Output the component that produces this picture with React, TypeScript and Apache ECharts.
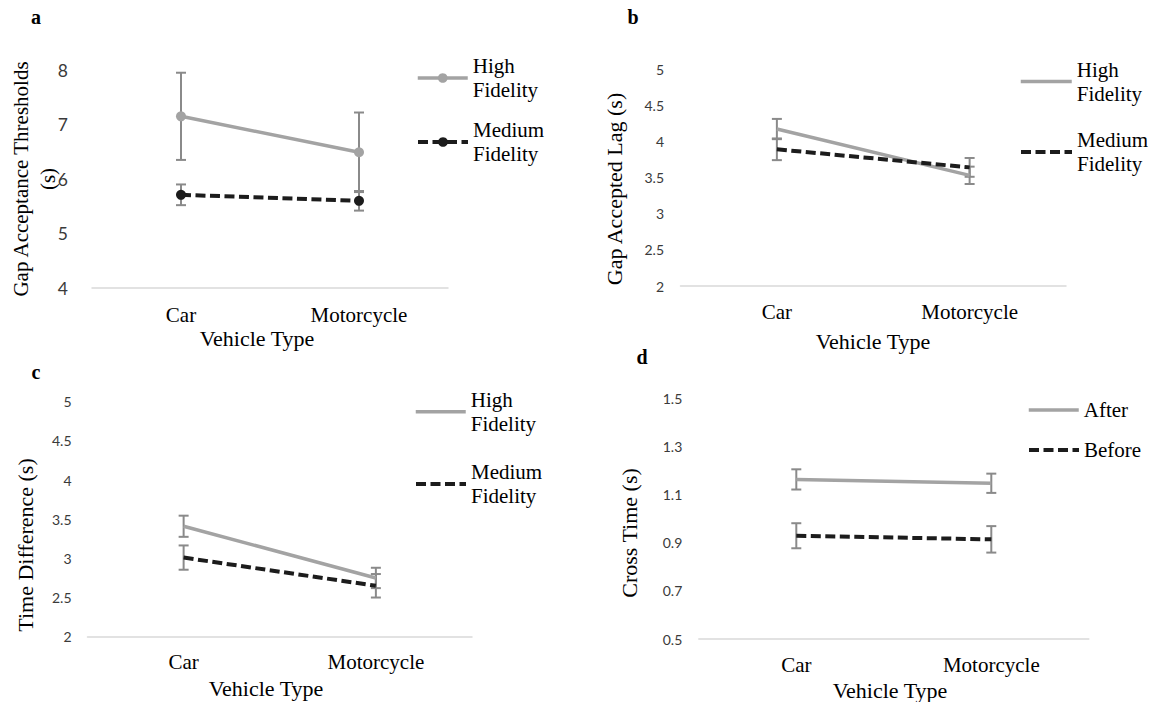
import React, { useEffect, useRef } from 'react';
import * as echarts from 'echarts';

// ---------- data ----------
const categories = ['Car', 'Motorcycle'];

// Panel a: Gap Acceptance Thresholds (s)
const aHigh = [7.15, 6.49];
const aHighErr = [0.8, 0.73];
const aMedium = [5.71, 5.6];
const aMediumErr = [0.19, 0.18];

// Panel b: Gap Accepted Lag (s)
const bHigh = [4.17, 3.53];
const bHighErr = [0.14, 0.12];
const bMedium = [3.89, 3.64];
const bMediumErr = [0.15, 0.13];

// Panel c: Time Difference (s)
const cHigh = [3.41, 2.75];
const cHighErr = [0.135, 0.13];
const cMedium = [3.01, 2.65];
const cMediumErr = [0.155, 0.15];

// Panel d: Cross Time (s)
const dAfter = [1.163, 1.147];
const dAfterErr = [0.042, 0.04];
const dBefore = [0.929, 0.914];
const dBeforeErr = [0.052, 0.055];

// axis ranges
const aAxis = { min: 4, max: 8, interval: 1 };
const bAxis = { min: 2, max: 5, interval: 0.5 };
const cAxis = { min: 2, max: 5, interval: 0.5 };
const dAxis = { min: 0.5, max: 1.5, interval: 0.2 };

// ---------- styles ----------
const SERIF = 'Liberation Serif';
const SANS = 'Lato';
const GRAY = '#a3a3a3';
const BLACK = '#1c1c1c';
const ERR = '#8a8a8a';
const DASH = [10, 4.5];
const LH = 24;

type S = { name: string; values: number[]; err: number[]; color: string; dashed: boolean };

const panels = [
  {
    key: 'a',
    grid: { left: 92, top: 70, width: 356, height: 218 },
    axis: aAxis,
    tickSize: 17.5,
    tickMargin: 24,
    xMargin: 16,
    symbols: true,
    fmt: (v: number) => String(v),
    series: [
      { name: 'High Fidelity', values: aHigh, err: aHighErr, color: GRAY, dashed: false },
      { name: 'Medium Fidelity', values: aMedium, err: aMediumErr, color: BLACK, dashed: true },
    ] as S[],
    legend: { x: 416, w: 50, ys: [78, 142], twoLine: true },
  },
  {
    key: 'b',
    grid: { left: 680.5, top: 69, width: 385.5, height: 217 },
    axis: bAxis,
    tickSize: 14,
    tickMargin: 16.5,
    xMargin: 15,
    symbols: false,
    fmt: (v: number) => String(v),
    series: [
      { name: 'High Fidelity', values: bHigh, err: bHighErr, color: GRAY, dashed: false },
      { name: 'Medium Fidelity', values: bMedium, err: bMediumErr, color: BLACK, dashed: true },
    ] as S[],
    legend: { x: 1019, w: 51, ys: [81.5, 152], twoLine: true },
  },
  {
    key: 'c',
    grid: { left: 87.5, top: 401.7, width: 384.5, height: 235 },
    axis: cAxis,
    tickSize: 14,
    tickMargin: 16,
    xMargin: 15,
    symbols: false,
    fmt: (v: number) => String(v),
    series: [
      { name: 'High Fidelity', values: cHigh, err: cHighErr, color: GRAY, dashed: false },
      { name: 'Medium Fidelity', values: cMedium, err: cMediumErr, color: BLACK, dashed: true },
    ] as S[],
    legend: { x: 414, w: 50, ys: [411.7, 484], twoLine: true },
  },
  {
    key: 'd',
    grid: { left: 698.8, top: 398.3, width: 390, height: 240.7 },
    axis: dAxis,
    tickSize: 14,
    tickMargin: 16.5,
    xMargin: 15,
    symbols: false,
    fmt: (v: number) => v.toFixed(1),
    series: [
      { name: 'After', values: dAfter, err: dAfterErr, color: GRAY, dashed: false },
      { name: 'Before', values: dBefore, err: dBeforeErr, color: BLACK, dashed: true },
    ] as S[],
    legend: { x: 1027, w: 50, ys: [410, 450], twoLine: false },
  },
];

const texts = [
  { t: 'a', x: 36, y: 17, bold: true, size: 20, rot: 0 },
  { t: 'b', x: 633, y: 17, bold: true, size: 20, rot: 0 },
  { t: 'c', x: 36, y: 372, bold: true, size: 20, rot: 0 },
  { t: 'd', x: 642, y: 357, bold: true, size: 20, rot: 0 },
  { t: 'Gap Acceptance Thresholds\n(s)', x: 34.5, y: 179, bold: false, size: 21, rot: 90, lh: 27 },
  { t: 'Gap Accepted Lag (s)', x: 614, y: 189, bold: false, size: 22, rot: 90 },
  { t: 'Time Difference (s)', x: 25, y: 545, bold: false, size: 22, rot: 90 },
  { t: 'Cross Time (s)', x: 629, y: 533, bold: false, size: 22, rot: 90 },
  { t: 'Vehicle Type', x: 257, y: 338, bold: false, size: 22, rot: 0 },
  { t: 'Vehicle Type', x: 873, y: 341, bold: false, size: 22, rot: 0 },
  { t: 'Vehicle Type', x: 266, y: 688, bold: false, size: 22, rot: 0 },
  { t: 'Vehicle Type', x: 890, y: 690, bold: false, size: 22, rot: 0 },
];

const errorRender = (color: string) => (params: any, api: any) => {
  const xi = api.value(0);
  const lo = api.coord([xi, api.value(1)]);
  const hi = api.coord([xi, api.value(2)]);
  const w = 5;
  const style = { stroke: color, lineWidth: 2, fill: 'none' };
  return {
    type: 'group',
    children: [
      { type: 'line', shape: { x1: lo[0], y1: lo[1], x2: hi[0], y2: hi[1] }, style },
      { type: 'line', shape: { x1: lo[0] - w, y1: lo[1], x2: lo[0] + w, y2: lo[1] }, style },
      { type: 'line', shape: { x1: hi[0] - w, y1: hi[1], x2: hi[0] + w, y2: hi[1] }, style },
    ],
  };
};

function buildOption() {
  const grid: any[] = [];
  const xAxis: any[] = [];
  const yAxis: any[] = [];
  const series: any[] = [];
  const legend: any[] = [];

  panels.forEach((p, pi) => {
    grid.push({ ...p.grid, containLabel: false });
    xAxis.push({
      type: 'category',
      gridIndex: pi,
      data: categories,
      boundaryGap: true,
      axisLine: { onZero: false, lineStyle: { color: '#d9d9d9', width: 1.5 } },
      axisTick: { show: false },
      splitLine: { show: false },
      axisLabel: { fontFamily: SERIF, fontSize: 21, lineHeight: 21, color: '#000', margin: p.xMargin },
    });
    yAxis.push({
      type: 'value',
      gridIndex: pi,
      min: p.axis.min,
      max: p.axis.max,
      interval: p.axis.interval,
      axisLine: { show: false },
      axisTick: { show: false },
      splitLine: { show: false },
      axisLabel: {
        fontFamily: SANS,
        fontSize: p.tickSize,
        color: '#3a3a3a',
        margin: p.tickMargin,
        formatter: p.fmt,
      },
    });

    p.series.forEach((s, si) => {
      const id = p.key + ':' + s.name;
      series.push({
        type: 'custom',
        name: id + ' err',
        xAxisIndex: pi,
        yAxisIndex: pi,
        z: 1,
        encode: { x: 0, y: [1, 2] },
        renderItem: errorRender(ERR),
        data: categories.map((_, i) => [i, s.values[i] - s.err[i], s.values[i] + s.err[i]]),
        silent: true,
      });
      series.push({
        type: 'line',
        name: id,
        xAxisIndex: pi,
        yAxisIndex: pi,
        z: 3,
        data: s.values,
        symbol: p.symbols ? 'circle' : 'none',
        symbolSize: 10,
        showSymbol: p.symbols,
        color: s.color,
        itemStyle: { color: s.color },
        lineStyle: {
          color: s.color,
          width: s.dashed ? 4 : 3.5,
          type: s.dashed ? DASH : 'solid',
        },
        emphasis: { disabled: true },
      });

      const textPad = p.legend.twoLine ? [LH, 0, 0, 0] : [0, 0, 0, 0];
      const half = p.legend.twoLine ? 1.5 * LH : 0.5 * LH;
      legend.push({
        data: [id],
        left: p.legend.x,
        top: p.legend.ys[si] - half,
        orient: 'vertical',
        padding: 0,
        itemGap: 0,
        itemWidth: p.legend.w,
        itemHeight: 12,
        selectedMode: false,
        formatter: (n: string) => {
          const label = n.split(':')[1];
          return p.legend.twoLine ? label.replace(' ', '\n') : label;
        },
        textStyle: {
          fontFamily: SERIF,
          fontSize: 21,
          lineHeight: LH,
          color: '#000',
          padding: textPad,
        },
        itemStyle: p.symbols ? { color: s.color } : { opacity: 0 },
        lineStyle: { color: s.color, width: s.dashed ? 4 : 3.5 },
      });
    });
  });

  const graphic = texts.map((g) => ({
    type: 'text',
    x: g.x,
    y: g.y,
    rotation: (g.rot * Math.PI) / 180,
    silent: true,
    style: {
      text: g.t,
      fill: '#000',
      fontFamily: SERIF,
      fontSize: g.size,
      fontWeight: g.bold ? 'bold' : 'normal',
      align: 'center',
      verticalAlign: 'middle',
      lineHeight: (g as any).lh || g.size,
    },
  }));

  return {
    animation: false,
    backgroundColor: '#fff',
    tooltip: { show: false },
    grid,
    xAxis,
    yAxis,
    legend,
    series,
    graphic,
  };
}

export default function App() {
  const ref = useRef<HTMLDivElement>(null);
  useEffect(() => {
    document.body.style.margin = '0';
    if (!ref.current) return;
    const chart = echarts.init(ref.current, null, { renderer: 'svg' });
    chart.setOption(buildOption() as any);
    return () => chart.dispose();
  }, []);
  return (
    <div
      ref={ref}
      style={{ position: 'absolute', left: 0, top: 0, width: 1153, height: 702, background: '#fff' }}
    />
  );
}
